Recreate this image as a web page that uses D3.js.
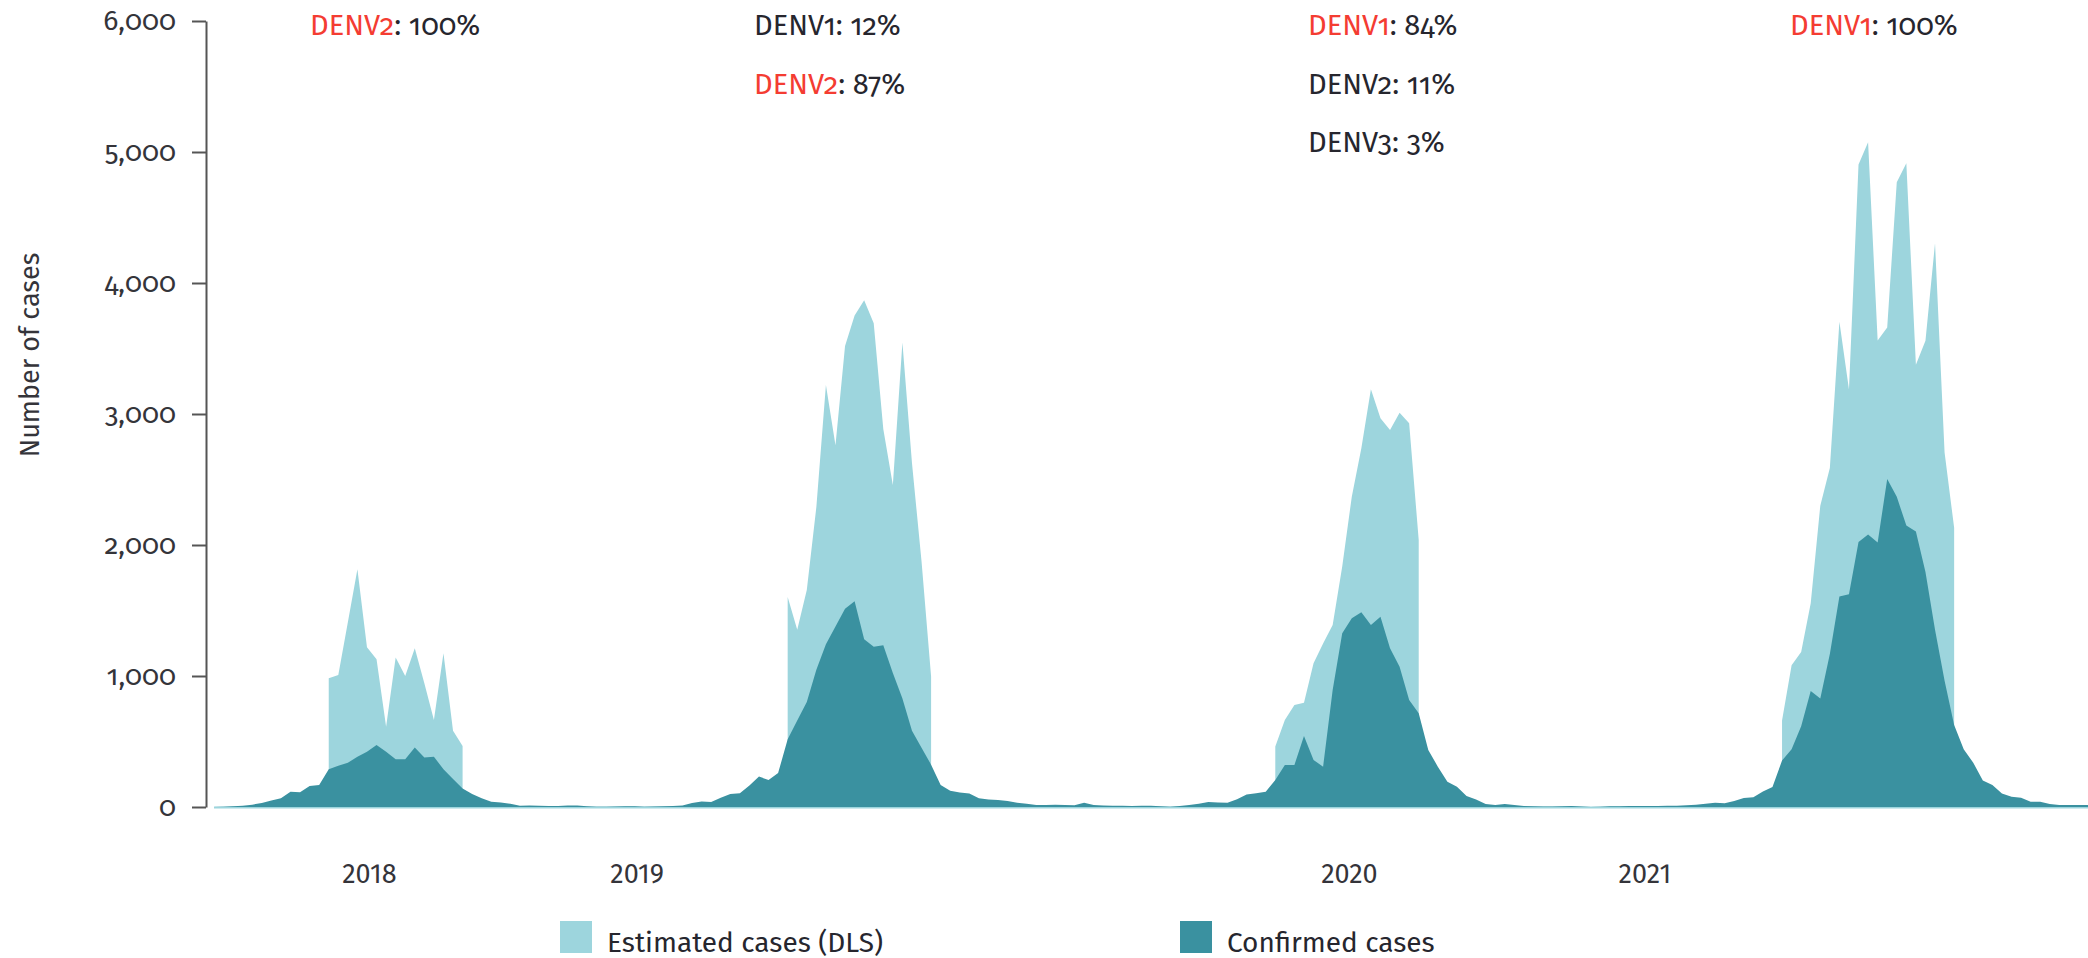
<!DOCTYPE html>
<html>
<head>
<meta charset="utf-8">
<script src="https://cdn.jsdelivr.net/npm/d3@7"></script>
<style>
  body { margin: 0; background: #fff; }
  text { font-family: "Fira Sans", Lato, "Noto Sans", sans-serif; font-weight: 400; }
  .onum { font-variant-numeric: oldstyle-nums; font-feature-settings: "onum" 1; }
</style>
</head>
<body>
<script>
// Weekly confirmed cases, one value per week (week index 0 .. 196)
var confirmed = [
  0, 2, 5, 10, 18, 30, 50, 66, 117, 112, 160, 168,
  288, 315, 338, 384, 422, 473, 422, 364, 364, 455, 377, 384, 288, 214, 142,
  99, 66, 40, 35, 25, 10, 12, 10, 8, 8, 12, 12, 5, 2, 2, 3, 6, 5, 2, 3, 6, 8, 12,
  30, 42, 38, 70, 100, 105, 165, 232, 207, 259,
  517, 660, 802, 1048, 1242, 1377, 1514, 1570, 1281, 1224, 1234, 1022, 828, 582, 453, 323,
  168, 125, 110, 104, 66, 58, 53, 45, 33, 25, 15, 16, 18, 15, 13, 33, 15, 12, 10, 9,
  8, 9, 10, 5, 2, 8, 15, 25, 38, 35, 33, 60, 95, 105, 117,
  206, 321, 321, 542, 359, 308, 893, 1326, 1440, 1486, 1389, 1453, 1211, 1071, 817, 715,
  435, 308, 193, 155, 84, 58, 23, 15, 23, 15, 8, 5, 3, 3, 5, 8, 3, 0, 2, 5, 6, 8, 8,
  8, 8, 9, 10, 14, 18, 25, 33, 28, 45, 68, 74, 118, 152,
  355, 440, 616, 886, 829, 1167, 1607, 1624, 2023, 2081, 2020, 2503, 2368, 2148, 2104,
  1793, 1353, 964, 626, 440, 338, 203, 168, 104, 79, 71, 41, 41, 23, 15, 15, 15, 15
];

// Estimated cases (DLS), only reported during the epidemic weeks
var estStartWeek = [12, 60, 111, 164];
var est2018 = [982, 1008, 1410, 1815, 1219, 1127, 613, 1142, 1000, 1211, 944, 664, 1173, 583, 466];
var est2019 = [1604, 1353, 1656, 2290, 3221, 2761, 3519, 3752, 3868, 3692, 2885, 2458, 3545, 2626, 1876, 996];
var est2020 = [461, 664, 779, 796, 1097, 1249, 1389, 1835, 2369, 2738, 3188, 2967, 2878, 3010, 2929, 2038];
var est2021 = [660, 1083, 1184, 1556, 2300, 2588, 3704, 3187, 4905, 5074, 3562, 3660, 4770, 4915, 3376, 3559, 4303, 2706, 2131];

// Axis labels
var yTicks = [0, 1000, 2000, 3000, 4000, 5000, 6000];
var yearLabels = ["2018", "2019", "2020", "2021"];
var yearLabelWeek = [16.2, 44.2, 118.7, 149.6];

// Serotype shares per epidemic (dominant one in red)
var serotypes = [
  [{ name: "DENV2", share: "100%", dominant: true }],
  [{ name: "DENV1", share: "12%", dominant: false }, { name: "DENV2", share: "87%", dominant: true }],
  [{ name: "DENV1", share: "84%", dominant: true }, { name: "DENV2", share: "11%", dominant: false }, { name: "DENV3", share: "3%", dominant: false }],
  [{ name: "DENV1", share: "100%", dominant: true }]
];

var legendLabels = ["Estimated cases (DLS)", "Confirmed cases"];

// Size and colours
var width = 2088, height = 958;
var lightColor = "#9dd5dd", darkColor = "#3a91a0";
var redColor = "#f43c32", textColor = "#26262e", axisColor = "#555";

var svg = d3.select("body").append("svg")
    .attr("width", width)
    .attr("height", height);

var x = d3.scaleLinear()
    .domain([0, confirmed.length - 1])
    .range([214, 2088]);

var y = d3.scaleLinear()
    .domain([0, 6000])
    .range([807, 21]);

// estimated areas first, confirmed drawn on top
var estBlocks = [est2018, est2019, est2020, est2021].map(function(vals, k) {
  return vals.map(function(v, i) { return { week: estStartWeek[k] + i, value: v }; });
});

var estArea = d3.area()
    .x(function(d) { return x(d.week); })
    .y0(y(0))
    .y1(function(d) { return y(d.value); });

svg.append("g").selectAll("path")
    .data(estBlocks)
    .enter()
    .append("path")
    .attr("d", estArea)
    .attr("fill", lightColor);

// thin light line along the zero line
svg.append("line")
    .attr("x1", x(0)).attr("x2", x(confirmed.length - 1))
    .attr("y1", y(0) + 0.5).attr("y2", y(0) + 0.5)
    .attr("stroke", lightColor)
    .attr("stroke-width", 2);

var confArea = d3.area()
    .x(function(d, i) { return x(i); })
    .y0(y(0))
    .y1(function(d) { return y(d); });

svg.append("path")
    .datum(confirmed)
    .attr("d", confArea)
    .attr("fill", darkColor);

// Y axis
var yAxis = svg.append("g")
    .attr("transform", "translate(206,0)")
    .call(d3.axisLeft(y)
        .tickValues(yTicks)
        .tickSizeInner(14)
        .tickSizeOuter(0)
        .tickPadding(16)
        .tickFormat(d3.format(",")));

yAxis.select(".domain").attr("stroke", axisColor).attr("stroke-width", 2);
yAxis.selectAll(".tick line").attr("stroke", axisColor).attr("stroke-width", 2);
yAxis.selectAll(".tick text")
    .attr("class", "onum")
    .attr("fill", "#34343a")
    .style("font-size", "28px");

svg.append("text")
    .attr("transform", "translate(39,355) rotate(-90)")
    .attr("text-anchor", "middle")
    .attr("fill", "#34343a")
    .style("font-size", "27px")
    .text("Number of cases");

// X axis: year labels only
var xAxis = svg.append("g")
    .attr("transform", "translate(0," + y(0) + ")")
    .call(d3.axisBottom(x)
        .tickValues(yearLabelWeek)
        .tickSize(0)
        .tickPadding(57)
        .tickFormat(function(d, i) { return yearLabels[i]; }));

xAxis.select(".domain").remove();
xAxis.selectAll(".tick text")
    .attr("fill", "#34343a")
    .style("font-size", "27px");

// Serotype annotations
var annotX = [310, 754, 1308, 1790];
var annotY = [35, 94, 152];

serotypes.forEach(function(list, k) {
  var g = svg.append("g");
  list.forEach(function(s, j) {
    var t = g.append("text")
        .attr("class", "onum")
        .attr("x", annotX[k])
        .attr("y", annotY[j])
        .style("font-size", "29px");
    t.append("tspan")
        .attr("fill", s.dominant ? redColor : textColor)
        .text(s.name);
    t.append("tspan")
        .attr("fill", textColor)
        .text(": " + s.share);
  });
});

// Legend
var legendX = [560, 1180];
var legend = svg.append("g").selectAll("g")
    .data(legendLabels)
    .enter()
    .append("g")
    .attr("transform", function(d, i) { return "translate(" + legendX[i] + ",921)"; });

legend.append("rect")
    .attr("width", 32)
    .attr("height", 32)
    .attr("fill", function(d, i) { return i === 0 ? lightColor : darkColor; });

legend.append("text")
    .attr("x", 47)
    .attr("y", 31)
    .attr("fill", textColor)
    .style("font-size", "28px")
    .text(function(d) { return d; });
</script>
</body>
</html>
